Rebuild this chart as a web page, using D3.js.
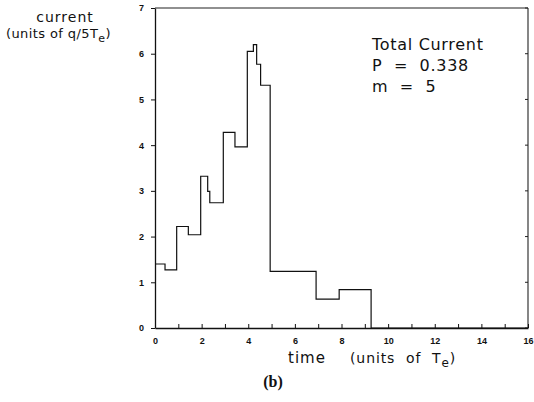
<!DOCTYPE html>
<html>
<head>
<meta charset="utf-8">
<script src="https://cdn.jsdelivr.net/npm/d3@7"></script>
<style>
  body { margin: 0; background: #fff; }
  text { font-family: 'DejaVu Sans', 'Liberation Sans', sans-serif; fill: #111; }
  .tick-lbl { font-family: 'Liberation Sans', Arial, sans-serif; font-size: 9px; font-weight: bold; }
</style>
</head>
<body>
<div id="chart"></div>
<script>
// step start times (units of T_e) and current level on each step
const stepTimes = [0, 0.43, 0.93, 1.43, 1.96, 2.26, 2.35, 2.93, 3.43, 3.96, 4.22, 4.36, 4.53, 4.94, 6.91, 7.9, 9.27, 16]
const stepValues = [1.4, 1.27, 2.22, 2.04, 3.32, 2.99, 2.74, 4.28, 3.96, 6.05, 6.2, 5.77, 5.31, 1.24, 0.63, 0.84, 0, 0]

const xTicks = d3.range(0, 17, 1)
const xTickLabels = [0, 2, 4, 6, 8, 10, 12, 14, 16]
const yTicks = [0, 1, 2, 3, 4, 5, 6, 7]

const margin = { top: 8, left: 155, right: 6, bottom: 74 }
const width = 534 - margin.left - margin.right
const height = 402 - margin.top - margin.bottom

const svg = d3
  .select('#chart')
  .append('svg')
  .attr('width', 534)
  .attr('height', 402)

const g = svg
  .append('g')
  .attr('transform', 'translate(' + margin.left + ',' + margin.top + ')')

const xPositionScale = d3.scaleLinear().domain([0, 16]).range([0, width])
const yPositionScale = d3.scaleLinear().domain([0, 7]).range([height, 0])

const points = stepTimes.map((t, i) => ({ t: t, v: stepValues[i] }))

const line = d3
  .line()
  .x(d => xPositionScale(d.t))
  .y(d => yPositionScale(d.v))
  .curve(d3.curveStepAfter)

g.append('path')
  .datum(points)
  .attr('d', line)
  .attr('fill', 'none')
  .attr('stroke', '#111')
  .attr('stroke-width', 1.2)

// frame: top and right edges
g.append('line')
  .attr('x1', 0)
  .attr('x2', width)
  .attr('y1', 0)
  .attr('y2', 0)
  .attr('stroke', '#222')
  .attr('stroke-width', 1.1)
g.append('line')
  .attr('x1', width)
  .attr('x2', width)
  .attr('y1', 0)
  .attr('y2', height)
  .attr('stroke', '#222')
  .attr('stroke-width', 1.1)

// right side small inward ticks
g.selectAll('.rtick')
  .data(yTicks)
  .enter()
  .append('line')
  .attr('class', 'rtick')
  .attr('x1', width)
  .attr('x2', width - 3)
  .attr('y1', d => yPositionScale(d))
  .attr('y2', d => yPositionScale(d))
  .attr('stroke', '#222')

// x axis, ticks pointing up
const xAxis = d3
  .axisBottom(xPositionScale)
  .tickValues(xTicks)
  .tickSizeInner(-4)
  .tickSizeOuter(0)
  .tickPadding(10)
  .tickFormat(d => (xTickLabels.includes(d) ? d : ''))
const xg = g
  .append('g')
  .attr('class', 'axis x-axis')
  .attr('transform', 'translate(0,' + height + ')')
  .call(xAxis)
xg.select('.domain').attr('stroke', '#111').attr('stroke-width', 1.3)
xg.selectAll('line').attr('stroke', '#111')
xg.selectAll('text').attr('class', 'tick-lbl').attr('font-family', null).attr('font-size', null)

// y axis, ticks pointing left
const yAxis = d3
  .axisLeft(yPositionScale)
  .tickValues(yTicks)
  .tickSizeInner(4)
  .tickSizeOuter(0)
  .tickPadding(7)
  .tickFormat(d3.format('d'))
const yg = g
  .append('g')
  .attr('class', 'axis y-axis')
  .call(yAxis)
yg.select('.domain').attr('stroke', '#111').attr('stroke-width', 1.3)
yg.selectAll('line').attr('stroke', '#111')
yg.selectAll('text').attr('class', 'tick-lbl').attr('font-family', null).attr('font-size', null)

// y axis title
svg
  .append('text')
  .attr('x', 65)
  .attr('y', 22)
  .attr('text-anchor', 'middle')
  .attr('font-size', 14)
  .attr('letter-spacing', 1)
  .text('current')
const yUnits = svg
  .append('text')
  .attr('x', 6)
  .attr('y', 38)
  .attr('font-size', 13)
  .attr('letter-spacing', 0.4)
yUnits.append('tspan').text('(units of q/5T')
yUnits.append('tspan').attr('font-size', 11).attr('dy', 4).text('e')
yUnits.append('tspan').attr('dy', -4).text(')')

// annotation
const notes = ['Total Current', 'P = 0.338', 'm = 5']
svg
  .selectAll('.note')
  .data(notes)
  .enter()
  .append('text')
  .attr('class', 'note')
  .attr('x', 372)
  .attr('y', (d, i) => 50 + i * 21)
  .attr('font-size', 16)
  .attr('letter-spacing', 0.7)
  .style('white-space', 'pre')
  .text(d => d.replace(' = ', '  =  '))

// x axis title
svg
  .append('text')
  .attr('x', 288)
  .attr('y', 363)
  .attr('font-size', 15)
  .attr('letter-spacing', 1)
  .text('time')
const xUnits = svg
  .append('text')
  .attr('x', 350)
  .attr('y', 363)
  .attr('font-size', 14)
  .attr('letter-spacing', 0.9)
  .style('white-space', 'pre')
xUnits.append('tspan').text('(units  of  T')
xUnits.append('tspan').attr('font-size', 12).attr('dy', 4).text('e')
xUnits.append('tspan').attr('dy', -4).text(')')

svg
  .append('text')
  .attr('x', 273)
  .attr('y', 387)
  .attr('text-anchor', 'middle')
  .style('font-family', "'Liberation Serif', serif")
  .attr('font-weight', 'bold')
  .attr('font-size', 16)
  .text('(b)')
</script>
</body>
</html>
